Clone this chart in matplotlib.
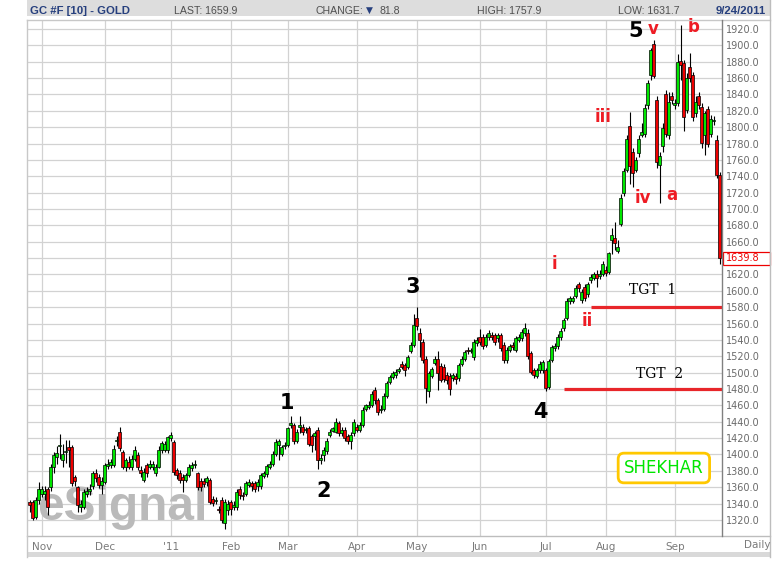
import numpy as np
import pandas as pd
import matplotlib
matplotlib.use('Agg')
from matplotlib import pyplot as plt
from matplotlib.patches import Rectangle
from matplotlib.lines import Line2D
import matplotlib.transforms as mtransforms

# GC #F daily bars, 25 Oct 2010 - 23 Sep 2011
opens = [1340, 1342, 1342, 1324, 1344, 1352, 1352, 1358, 1360, 1385,
         1397, 1410, 1393, 1403, 1409, 1409, 1372, 1360, 1336, 1336,
         1352, 1355, 1362, 1378, 1373, 1363, 1367, 1386, 1387, 1387,
         1416, 1428, 1403, 1385, 1391, 1385, 1395, 1399, 1381, 1369,
         1387, 1385, 1385, 1377, 1385, 1406, 1405, 1405, 1420, 1415,
         1381, 1378, 1373, 1369, 1375, 1383, 1387, 1377, 1368, 1368,
         1366, 1369, 1346, 1343, 1334, 1345, 1316, 1332, 1342, 1336,
         1336, 1358, 1350, 1352, 1363, 1365, 1365, 1361, 1361, 1374,
         1376, 1385, 1389, 1401, 1411, 1401, 1410, 1411, 1436, 1436,
         1416, 1434, 1434, 1430, 1432, 1422, 1422, 1430, 1393, 1399,
         1404, 1424, 1429, 1428, 1438, 1426, 1430, 1422, 1416, 1426,
         1434, 1430, 1436, 1455, 1458, 1460, 1479, 1466, 1454, 1456,
         1472, 1489, 1495, 1497, 1502, 1511, 1509, 1507, 1527, 1534,
         1567, 1548, 1538, 1517, 1477, 1496, 1512, 1517, 1508, 1507,
         1497, 1496, 1493, 1496, 1493, 1511, 1517, 1528, 1527, 1519,
         1536, 1544, 1544, 1534, 1544, 1546, 1546, 1542, 1546, 1534,
         1515, 1528, 1534, 1528, 1540, 1542, 1548, 1549, 1524, 1503,
         1496, 1503, 1503, 1503, 1483, 1516, 1530, 1532, 1543, 1554,
         1567, 1587, 1588, 1594, 1608, 1589, 1605, 1596, 1613, 1616,
         1620, 1618, 1621, 1625, 1623, 1662, 1664, 1649, 1682, 1720,
         1748, 1801, 1770, 1748, 1768, 1790, 1792, 1827, 1864, 1902,
         1833, 1754, 1777, 1841, 1790, 1838, 1827, 1830, 1881, 1878,
         1821, 1874, 1864, 1817, 1838, 1825, 1790, 1822, 1792, 1807,
         1784, 1742]
highs = [1348, 1345, 1344, 1348, 1366, 1362, 1362, 1360, 1388, 1403,
         1410, 1425, 1413, 1418, 1418, 1412, 1375, 1362, 1345, 1358,
         1360, 1364, 1380, 1382, 1376, 1372, 1390, 1394, 1395, 1411,
         1422, 1433, 1406, 1396, 1398, 1399, 1410, 1403, 1386, 1383,
         1390, 1393, 1392, 1388, 1410, 1416, 1416, 1423, 1428, 1418,
         1384, 1381, 1376, 1378, 1389, 1391, 1393, 1379, 1371, 1371,
         1374, 1371, 1349, 1348, 1337, 1348, 1346, 1344, 1345, 1343,
         1358, 1361, 1354, 1368, 1370, 1368, 1368, 1370, 1378, 1380,
         1389, 1392, 1404, 1419, 1419, 1412, 1415, 1434, 1447, 1439,
         1431, 1447, 1437, 1434, 1435, 1425, 1429, 1433, 1400, 1409,
         1420, 1431, 1434, 1444, 1441, 1433, 1433, 1425, 1427, 1443,
         1437, 1440, 1458, 1462, 1465, 1478, 1482, 1469, 1460, 1475,
         1490, 1497, 1502, 1504, 1507, 1514, 1512, 1522, 1537, 1572,
         1580, 1554, 1541, 1520, 1502, 1507, 1520, 1527, 1512, 1511,
         1501, 1500, 1500, 1499, 1512, 1520, 1528, 1531, 1530, 1541,
         1544, 1553, 1547, 1547, 1552, 1550, 1549, 1549, 1549, 1537,
         1531, 1535, 1537, 1545, 1547, 1553, 1561, 1553, 1527, 1506,
         1506, 1514, 1516, 1506, 1517, 1534, 1536, 1547, 1554, 1567,
         1591, 1594, 1594, 1607, 1611, 1602, 1608, 1611, 1620, 1623,
         1625, 1625, 1636, 1630, 1648, 1677, 1684, 1662, 1718, 1750,
         1790, 1819, 1775, 1764, 1790, 1805, 1828, 1858, 1897, 1907,
         1838, 1770, 1805, 1845, 1843, 1843, 1834, 1890, 1925, 1882,
         1866, 1891, 1867, 1838, 1843, 1829, 1820, 1826, 1815, 1814,
         1790, 1745]
lows = [1335, 1330, 1320, 1321, 1340, 1348, 1345, 1326, 1356, 1378,
        1388, 1395, 1385, 1390, 1385, 1362, 1362, 1330, 1330, 1333,
        1348, 1350, 1358, 1367, 1359, 1352, 1364, 1382, 1384, 1385,
        1410, 1404, 1382, 1380, 1382, 1381, 1392, 1381, 1372, 1366,
        1372, 1382, 1381, 1374, 1383, 1402, 1403, 1402, 1416, 1375,
        1370, 1365, 1354, 1366, 1372, 1380, 1384, 1357, 1356, 1360,
        1362, 1339, 1337, 1340, 1329, 1316, 1309, 1326, 1326, 1332,
        1332, 1346, 1345, 1349, 1360, 1356, 1354, 1356, 1358, 1371,
        1373, 1382, 1386, 1398, 1393, 1398, 1407, 1409, 1432, 1413,
        1414, 1426, 1424, 1426, 1410, 1403, 1406, 1382, 1388, 1392,
        1400, 1421, 1427, 1426, 1423, 1422, 1416, 1413, 1407, 1423,
        1427, 1427, 1433, 1453, 1455, 1458, 1462, 1448, 1451, 1453,
        1469, 1486, 1492, 1494, 1499, 1504, 1496, 1504, 1524, 1531,
        1552, 1519, 1512, 1463, 1470, 1493, 1509, 1479, 1488, 1488,
        1486, 1473, 1490, 1486, 1490, 1508, 1514, 1523, 1524, 1516,
        1533, 1534, 1529, 1531, 1540, 1540, 1534, 1538, 1527, 1512,
        1512, 1525, 1528, 1525, 1537, 1539, 1545, 1517, 1498, 1494,
        1493, 1500, 1500, 1478, 1480, 1513, 1527, 1529, 1540, 1551,
        1564, 1584, 1585, 1591, 1598, 1585, 1587, 1593, 1610, 1613,
        1605, 1614, 1618, 1618, 1620, 1645, 1650, 1646, 1679, 1716,
        1745, 1731, 1727, 1745, 1763, 1788, 1788, 1822, 1858, 1860,
        1750, 1707, 1770, 1788, 1786, 1828, 1822, 1826, 1858, 1795,
        1817, 1855, 1808, 1812, 1822, 1775, 1766, 1776, 1788, 1803,
        1738, 1633]
closes = [1342, 1338, 1322, 1344, 1358, 1358, 1356, 1336, 1385, 1399,
          1402, 1411, 1401, 1404, 1405, 1365, 1368, 1338, 1340, 1354,
          1356, 1358, 1378, 1371, 1363, 1368, 1387, 1389, 1391, 1407,
          1418, 1408, 1385, 1393, 1385, 1395, 1405, 1385, 1377, 1379,
          1377, 1389, 1388, 1385, 1406, 1414, 1413, 1421, 1424, 1379,
          1375, 1369, 1369, 1375, 1385, 1387, 1389, 1360, 1360, 1364,
          1371, 1342, 1341, 1345, 1332, 1320, 1342, 1340, 1334, 1338,
          1354, 1350, 1349, 1365, 1366, 1361, 1358, 1367, 1375, 1377,
          1386, 1389, 1401, 1415, 1416, 1409, 1412, 1432, 1438, 1416,
          1428, 1436, 1428, 1431, 1413, 1411, 1426, 1393, 1396, 1405,
          1417, 1428, 1432, 1440, 1426, 1430, 1420, 1416, 1424, 1440,
          1430, 1436, 1454, 1460, 1460, 1474, 1466, 1452, 1456, 1472,
          1487, 1495, 1499, 1501, 1505, 1507, 1503, 1519, 1534, 1558,
          1557, 1540, 1515, 1481, 1499, 1504, 1517, 1499, 1491, 1492,
          1491, 1480, 1497, 1492, 1509, 1517, 1525, 1526, 1528, 1538,
          1540, 1537, 1532, 1544, 1548, 1544, 1538, 1546, 1530, 1515,
          1528, 1532, 1531, 1542, 1544, 1550, 1554, 1520, 1501, 1497,
          1503, 1511, 1513, 1481, 1514, 1531, 1533, 1544, 1551, 1564,
          1588, 1591, 1591, 1604, 1603, 1599, 1591, 1608, 1617, 1620,
          1616, 1621, 1633, 1622, 1646, 1668, 1659, 1653, 1714, 1746,
          1786, 1752, 1744, 1760, 1786, 1794, 1824, 1854, 1894, 1862,
          1758, 1765, 1799, 1792, 1831, 1833, 1830, 1880, 1876, 1813,
          1860, 1860, 1813, 1831, 1827, 1781, 1817, 1780, 1810, 1809,
          1742, 1640]

holidays = ['2010-11-25', '2010-12-24', '2011-01-17', '2011-02-21',
            '2011-04-22', '2011-05-30', '2011-07-04', '2011-09-05']
month_labels = ['Nov', 'Dec', "'11", 'Feb', 'Mar', 'Apr', 'May', 'Jun',
                'Jul', 'Aug', 'Sep']
last_price = 1639.8
targets = [1580, 1480]          # TGT 1, TGT 2
target_start = [188, 179]       # bar where each target line begins

# trading calendar -> bar index
dates = pd.bdate_range('2010-10-25', '2011-09-23')
dates = dates[~dates.isin(pd.to_datetime(holidays))]
per = dates.to_period('M')
month_idx = [i for i in range(1, len(dates)) if per[i] != per[i - 1]]

o = np.array(opens, float)
h = np.array(highs, float)
l = np.array(lows, float)
c = np.array(closes, float)
x = np.arange(len(c))

W, H = 777, 567
fig = plt.figure(figsize=(W / 100, H / 100), dpi=100)


def fx(px):
    return px / W


def fy(py):
    return 1 - py / H


ax = fig.add_axes([fx(27), fy(536), (722 - 27) / W, (536 - 19.5) / H])
ax.set_xlim(0.1, 231.77)
ax.set_ylim(1300.4, 1931.6)
for s in ax.spines.values():
    s.set_visible(False)

ax.set_xticks(month_idx)
ax.set_xticklabels(month_labels)
ax.yaxis.tick_right()
yt = np.arange(1320, 1921, 20)
ax.set_yticks(yt)
ax.set_yticklabels(['%.1f' % v for v in yt])
ax.tick_params(axis='y', length=0, pad=2.6, labelsize=7, labelcolor='#6a6a6a')
ax.tick_params(axis='x', length=0, pad=4.5, labelsize=7.5, labelcolor='#7a7a7a')
ax.grid(True, color='#d2d2d2', lw=0.9)
ax.set_axisbelow(True)

# watermark
ax.text(fx(37), fy(520), 'eSignal', transform=fig.transFigure, fontsize=34.5,
        family='Liberation Sans', fontweight='bold', color='#bababa',
        va='baseline', ha='left', zorder=0.8)

# candles
up = c >= o
colors = np.where(up, '#00e600', '#ee0000')
ax.vlines(x, l, h, color='black', lw=0.8, zorder=2)
body_lo = np.minimum(o, c)
body_h = np.maximum(np.abs(c - o), 0.8)
ax.bar(x, body_h, bottom=body_lo, width=0.8, color=colors,
       edgecolor='black', lw=0.5, zorder=3)

# target lines
for lvl, st in zip(targets, target_start):
    ax.plot([st, 231.77], [lvl, lvl], color='#e8262a', lw=2.3, zorder=4,
            solid_capstyle='butt')
ax.text(208.8, 1601, 'TGT  1', family='DejaVu Serif', fontsize=10,
        ha='center', va='center', zorder=5)
ax.text(211.1, 1498.4, 'TGT  2', family='DejaVu Serif', fontsize=10,
        ha='center', va='center', zorder=5)

# wave counts
waves = [('1', 86.7, 1463.3), ('2', 99.1, 1355.4), ('3', 128.8, 1604.7),
         ('4', 171.3, 1452.3), ('5', 203.0, 1917.9)]
for t, xi, yi in waves:
    ax.text(xi, yi, t, fontsize=15, fontweight='bold', color='black',
            ha='center', va='center', zorder=6, clip_on=False)
subwaves = [('v', 208.8, 1920.5), ('b', 222.4, 1922.0), ('iii', 192.0, 1812.8),
            ('iv', 205.4, 1713.5), ('a', 215.0, 1717.1), ('i', 175.8, 1632.8),
            ('ii', 186.7, 1563.5)]
for t, xi, yi in subwaves:
    ax.text(xi, yi, t, fontsize=12, fontweight='bold', color='#ee1c24',
            ha='center', va='center', zorder=6, clip_on=False)

ax.text(212.4, 1383.5, 'SHEKHAR', fontsize=12, color='#00e600',
        ha='center', va='center', zorder=6,
        bbox=dict(boxstyle='round,pad=0.35', fc='white', ec='#ffc800', lw=2))

# last price box on the price scale
tr = mtransforms.blended_transform_factory(fig.transFigure, ax.transData)
bh = 12.5 / (491 / 600)
ax.add_patch(Rectangle((fx(723), last_price - bh / 2), fx(770) - fx(723), bh,
                       transform=tr, fc='white', ec='#ee0000', lw=0.9,
                       zorder=10, clip_on=False))
ax.text(fx(726), last_price, '%.1f' % last_price, transform=tr, fontsize=7,
        color='#ee0000', va='center', ha='left', zorder=11, clip_on=False)

# frame, header and bottom band
fig.add_artist(Rectangle((fx(27), fy(16)), fx(770) - fx(27), 16 / H,
                         transform=fig.transFigure, fc='#dddddd', ec='none'))
fig.add_artist(Rectangle((fx(27), fy(557)), fx(770) - fx(27), 5 / H,
                         transform=fig.transFigure, fc='#d9d9d9', ec='none'))
frame = [((27, 19.5), (770, 19.5), '#c8c8c8'),
         ((27, 536), (770, 536), '#bdbdbd'),
         ((27, 19.5), (27, 557), '#c8c8c8'),
         ((770, 0), (770, 557), '#bdbdbd'),
         ((722, 19.5), (722, 536), '#808080')]
for (x0, y0), (x1, y1), col in frame:
    fig.add_artist(Line2D([fx(x0), fx(x1)], [fy(y0), fy(y1)], color=col,
                          lw=1, transform=fig.transFigure))

hy = fy(10.5)
navy = '#27407e'
grey = '#505050'
hfont = ['Liberation Sans', 'DejaVu Sans']
fig.text(fx(30), hy, 'GC #F [10] - GOLD', family=hfont, fontsize=8.2,
         fontweight='bold', color=navy, va='center')
fig.text(fx(174), hy, 'LAST: 1659.9', family=hfont, fontsize=7.6,
         color=grey, va='center')
fig.text(fx(316), hy, 'CHANGE:', family=hfont, fontsize=7.6, color=grey,
         va='center')
fig.text(fx(366), hy, '\u25bc', family=['DejaVu Sans'], fontsize=6.5,
         color=navy, va='center')
fig.text(fx(379), hy, '81.8', family=hfont, fontsize=7.6, color=grey,
         va='center')
fig.text(fx(477), hy, 'HIGH: 1757.9', family=hfont, fontsize=7.6,
         color=grey, va='center')
fig.text(fx(618), hy, 'LOW: 1631.7', family=hfont, fontsize=7.6,
         color=grey, va='center')
fig.text(fx(766), hy, '9/24/2011', family=hfont, fontsize=8.2,
         fontweight='bold', color=navy, va='center', ha='right')
fig.text(fx(757), fy(545), 'Daily', fontsize=7.5, color='#7a7a7a',
         ha='center', va='center')

fig.savefig('out.png', dpi=100)
